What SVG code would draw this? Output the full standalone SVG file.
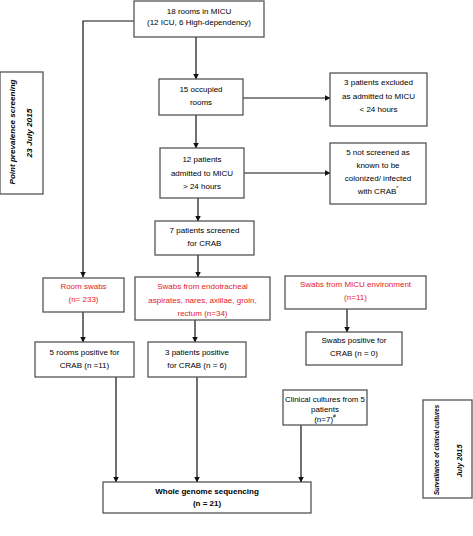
<svg xmlns="http://www.w3.org/2000/svg" width="473" height="536" viewBox="0 0 473 536">
<defs>
<marker id="ah" markerWidth="6" markerHeight="6" refX="5.5" refY="3" orient="auto" markerUnits="userSpaceOnUse">
<path d="M0,0 L6,3 L0,6 z" fill="#111"/>
</marker>
<style>
rect{fill:#fff;stroke:#555;stroke-width:1.3}
text{font-family:"Liberation Sans",Arial,sans-serif;font-size:8px;fill:#000;text-anchor:middle;dominant-baseline:middle}
.r{fill:#e3211c}
.b{font-weight:bold}
.bi{font-weight:bold;font-style:italic}
.c line,.c polyline{stroke:#111;stroke-width:1.2;fill:none;marker-end:url(#ah)}
</style>
</defs>
<rect x="0" y="0" width="473" height="536" style="fill:#fff;stroke:none"/>
<g class="c" id="connectors">
<polyline points="134,21 83,21 83,277"/>
<line x1="196" y1="37" x2="196" y2="79"/>
<line x1="243" y1="98" x2="330" y2="98"/>
<line x1="196" y1="115" x2="196" y2="148"/>
<line x1="244" y1="173" x2="330" y2="173"/>
<line x1="198" y1="198" x2="198" y2="221"/>
<line x1="198" y1="255" x2="198" y2="277"/>
<line x1="347" y1="309" x2="347" y2="332"/>
<line x1="83" y1="312" x2="83" y2="342"/>
<line x1="195" y1="320" x2="195" y2="342"/>
<line x1="116" y1="377" x2="116" y2="482"/>
<line x1="197" y1="377" x2="197" y2="482"/>
<line x1="301" y1="425" x2="301" y2="482"/>
</g>
<g id="n1"><rect x="134" y="1" width="130" height="36"/>
<text x="199" y="12">18 rooms in MICU</text><text x="199" y="22.5">(12 ICU, 6 High-dependency)</text></g>
<g id="n2"><rect x="159" y="79" width="84" height="36"/>
<text x="201" y="90">15 occupied</text><text x="201" y="103">rooms</text></g>
<g id="n3"><rect x="330" y="73" width="97" height="53"/>
<text x="378.5" y="83">3 patients excluded</text><text x="378.5" y="96.5">as admitted to MICU</text><text x="378.5" y="110">&lt; 24 hours</text></g>
<g id="n4"><rect x="160" y="148" width="84" height="50"/>
<text x="202" y="160">12 patients</text><text x="202" y="173.5">admitted to MICU</text><text x="202" y="187">&gt; 24 hours</text></g>
<g id="n5"><rect x="330" y="143" width="96" height="61"/>
<text x="378" y="153">5 not screened as</text><text x="378" y="166">known to be</text><text x="378" y="179">colonized/ infected</text><text x="378" y="192">with CRAB<tspan dy="-3" font-size="5">*</tspan></text></g>
<g id="n6"><rect x="155" y="221" width="99" height="34"/>
<text x="204.5" y="231">7 patients screened</text><text x="204.5" y="244">for CRAB</text></g>
<g id="n7"><rect x="43" y="278" width="81" height="34"/>
<text class="r" x="83.5" y="287">Room swabs</text><text class="r" x="83.5" y="300">(n= 233)</text></g>
<g id="n8"><rect x="135" y="277" width="135" height="43"/>
<text class="r" x="202.5" y="287">Swabs from endotracheal</text><text class="r" x="202.5" y="300.5">aspirates, nares, axillae, groin,</text><text class="r" x="202.5" y="314">rectum (n=34)</text></g>
<g id="n9"><rect x="285" y="276" width="141" height="33"/>
<text class="r" x="355.5" y="285">Swabs from MICU environment</text><text class="r" x="355.5" y="298">(n=11)</text></g>
<g id="n10"><rect x="306" y="332" width="96" height="33"/>
<text x="354" y="341">Swabs positive for</text><text x="354" y="354">CRAB (n = 0)</text></g>
<g id="n11"><rect x="35" y="342" width="99" height="35"/>
<text x="84.5" y="353">5 rooms positive for</text><text x="84.5" y="366">CRAB (n =11)</text></g>
<g id="n12"><rect x="148" y="342" width="98" height="35"/>
<text x="197" y="353">3 patients positive</text><text x="197" y="366">for CRAB (n = 6)</text></g>
<g id="n13"><rect x="283" y="390" width="84" height="35"/>
<text x="325" y="400" textLength="80" lengthAdjust="spacingAndGlyphs">Clinical cultures from 5</text><text x="325" y="410">patients</text><text x="325" y="419.5">(n=7)<tspan dy="-3" font-size="5">#</tspan></text></g>
<g id="n14"><rect x="103" y="482" width="208" height="31"/>
<text class="b" x="207" y="492">Whole genome sequencing</text><text class="b" x="207" y="504">(n = 21)</text></g>
<g id="n15"><rect x="0" y="72" width="43" height="122"/>
<text class="bi" transform="translate(13,132) rotate(-90)" textLength="105" lengthAdjust="spacingAndGlyphs">Point prevalence screening</text>
<text class="bi" transform="translate(30,133) rotate(-90)" textLength="49" lengthAdjust="spacingAndGlyphs">23 July 2015</text></g>
<g id="n16"><rect x="423" y="400" width="49" height="98"/>
<text class="bi" transform="translate(437,450) rotate(-90)" textLength="90" lengthAdjust="spacingAndGlyphs">Surveillance of clinical cultures</text>
<text class="bi" transform="translate(460,461) rotate(-90)" textLength="33" lengthAdjust="spacingAndGlyphs">July 2015</text></g>
</svg>
